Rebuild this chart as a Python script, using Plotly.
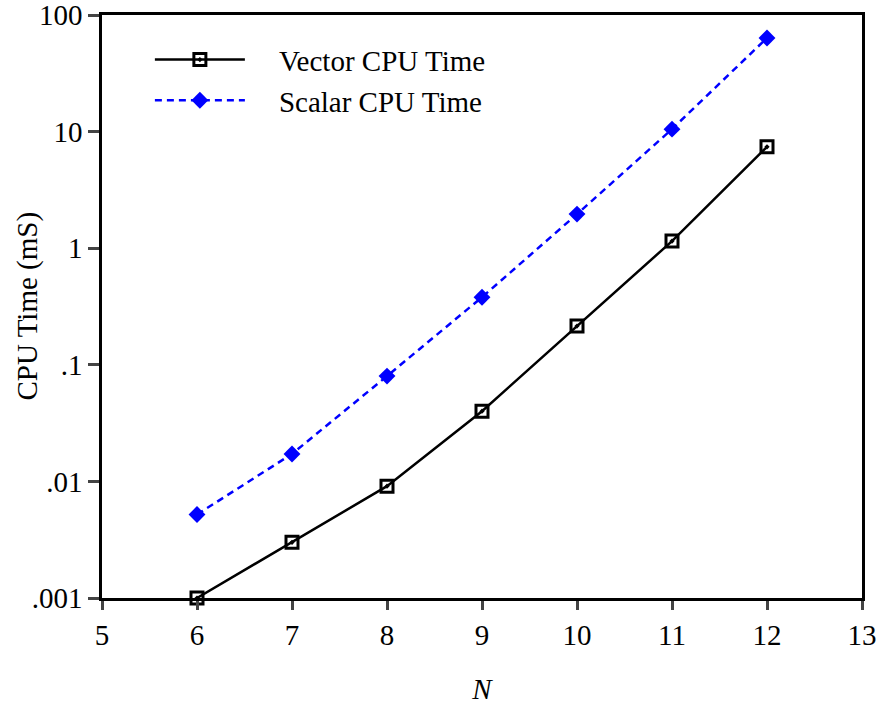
import plotly.graph_objects as go

N = [6, 7, 8, 9, 10, 11, 12]
vector_cpu = [0.001, 0.0030, 0.0091, 0.040, 0.215, 1.15, 7.4]
scalar_cpu = [0.0052, 0.0172, 0.080, 0.38, 1.96, 10.5, 63.5]
y_tickvals = [0.001, 0.01, 0.1, 1, 10, 100]
y_ticktext = [".001", ".01", ".1", "1", "10", "100"]
x_tickvals = [5, 6, 7, 8, 9, 10, 11, 12, 13]

font = "Liberation Serif, Times New Roman, serif"
FS = 29
pad = "\u00a0" * 4

fig = go.Figure()
fig.add_trace(go.Scatter(
    x=N, y=vector_cpu, name=pad + "Vector CPU Time", mode="lines+markers",
    line=dict(color="black", width=2.5),
    marker=dict(symbol="square-open-dot", size=12, color="black", line=dict(width=3)),
    cliponaxis=False,
))
fig.add_trace(go.Scatter(
    x=N, y=scalar_cpu, name=pad + "Scalar CPU Time", mode="lines+markers",
    line=dict(color="#0000ff", width=2.5, dash="7px,5px"),
    marker=dict(symbol="diamond", size=13, color="#0000ff"),
    cliponaxis=False,
))

fig.update_layout(
    width=880, height=709,
    margin=dict(l=102, r=18, t=15, b=111),
    paper_bgcolor="white", plot_bgcolor="white",
    font=dict(family=font, size=FS, color="black"),
    showlegend=True,
    legend=dict(x=0.063, y=0.967, xanchor="left", yanchor="top",
                bgcolor="rgba(0,0,0,0)", itemwidth=90,
                font=dict(family=font, size=FS), tracegroupgap=0),
    xaxis=dict(range=[5, 13], tickvals=x_tickvals, ticks="outside", ticklen=9,
               tickwidth=2.5, linewidth=2.5, linecolor="black", mirror=True,
               showgrid=False, zeroline=False, tickfont=dict(size=FS),
               automargin=False, ticklabeloverflow="allow",
               title=dict(text="<i>N</i>", font=dict(size=FS), standoff=30)),
    yaxis=dict(type="log", range=[-3, 2], tickvals=y_tickvals, ticktext=y_ticktext,
               ticks="outside", ticklen=11, tickwidth=2.5, linewidth=2.5,
               linecolor="black", mirror=True, showgrid=False, zeroline=False,
               tickfont=dict(size=FS), automargin=False, ticklabeloverflow="allow"),
    annotations=[dict(text="CPU Time (mS)", textangle=-90, xref="paper", yref="paper",
                      x=0, y=0.5, xanchor="center", yanchor="middle", xshift=-75,
                      showarrow=False, font=dict(size=FS))],
)

fig.write_html("out.html")
